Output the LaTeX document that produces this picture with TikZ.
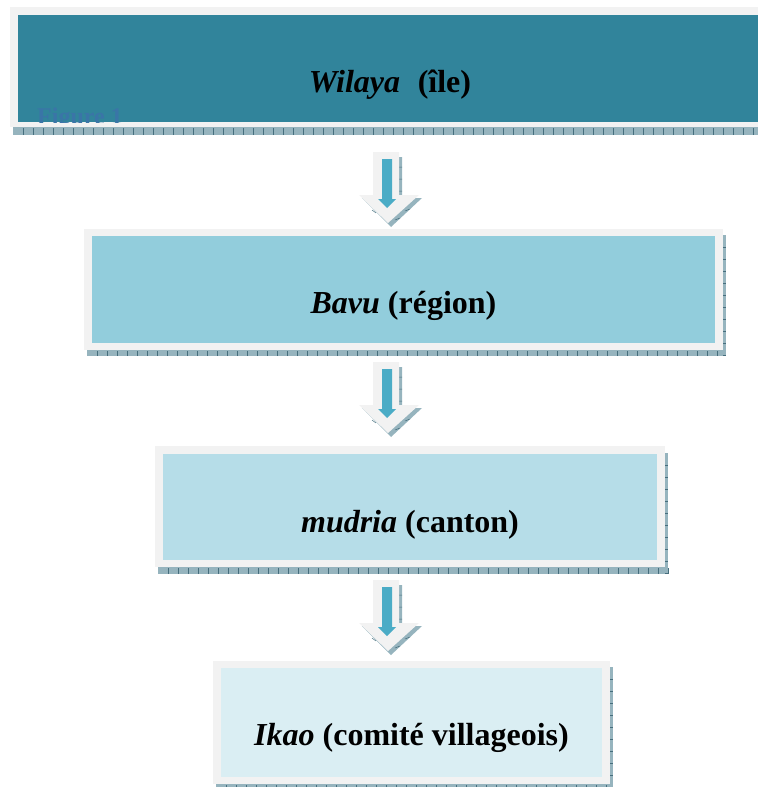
\documentclass[tikz,border=0pt]{standalone}
\usepackage{fontspec}
\setmainfont{Liberation Serif}
\definecolor{framegray}{RGB}{242,242,242}
\definecolor{shadowc}{RGB}{150,180,190}
\definecolor{tickc}{RGB}{70,110,125}
\definecolor{boxA}{HTML}{31849B}
\definecolor{boxB}{HTML}{92CDDC}
\definecolor{boxC}{HTML}{B6DDE8}
\definecolor{boxD}{HTML}{DAEEF3}
\definecolor{arrowblue}{HTML}{4BACC6}
\definecolor{ghost}{RGB}{62,110,172}
\newcommand\boxshadow[6]{% x1 y1 x2 y2 dy  showright
  \fill[shadowc] (#1+3,#2+#5) rectangle (#3+3,#4+#5);
  \pgfmathtruncatemacro\nb{(#3-#1)/10}
  \foreach \i in {1,...,\nb}{\draw[tickc,line width=0.6bp] (#1+3+\i*10,#4+1) -- (#1+3+\i*10,#4+#5);}
  \pgfmathtruncatemacro\nr{(#4-#2)/12}
  \ifnum#6=1
  \foreach \i in {1,...,\nr}{\draw[tickc,line width=0.6bp] (#3,#2+#5+\i*12) -- (#3+3,#2+#5+\i*12);}
  \fi
}
\newcommand\blkarrow[1]{% top y
  \fill[shadowc] (376,#1+5) -- (402,#1+5) -- (402,#1+46) -- (422,#1+46) -- (391,#1+75) -- (362,#1+46) -- (376,#1+46) -- cycle;
  \draw[tickc,line width=0.5bp] (399,#1+15) -- (402,#1+15) (399,#1+27) -- (402,#1+27) (399,#1+39) -- (402,#1+39)
     (395,#1+68) -- (400,#1+66) (405,#1+59) -- (410,#1+57) (372,#1+58) -- (376,#1+61);
  \fill[framegray] (373,#1) -- (399,#1) -- (399,#1+43) -- (419,#1+43) -- (388,#1+71) -- (359,#1+43) -- (373,#1+43) -- cycle;
  \fill[arrowblue] (382,#1+7) -- (392,#1+7) -- (392,#1+47) -- (396,#1+47) -- (387,#1+56) -- (378,#1+47) -- (382,#1+47) -- cycle;
}
\begin{document}
\begin{tikzpicture}[x=1bp,y=-1bp,
  inner/.style={inner sep=0pt, draw=none},
  lbl/.style={inner sep=0pt, font=\fontsize{32bp}{38bp}\selectfont\bfseries, text=black}]
\useasboundingbox (0,0) rectangle (758,787);
\clip (0,0) rectangle (758,787);

% ---- box 1
\boxshadow{10}{7}{770}{127}{8}{0}
\fill[framegray] (10,7) rectangle (770,127);
\node[inner, fill=boxA, minimum width=744bp, minimum height=107bp] (b1) at (390,68.5) {};
\begin{scope}
  \clip (18,15) rectangle (762,122);
  \node[inner, anchor=base west, text=ghost!70!boxA, font=\fontsize{24bp}{26bp}\selectfont\bfseries] (fig) at (37,124.5) {Figure 1};
\end{scope}
\node[lbl] (t1) at (390,85) {\textit{Wilaya}\hspace{0.3em} (île)};

% ---- arrow 1
\blkarrow{152}

% ---- box 2
\boxshadow{84}{229}{723}{350}{6}{1}
\fill[framegray] (84,229) rectangle (723,350);
\node[inner, fill=boxB, minimum width=623bp, minimum height=107bp] (b2) at (403.5,289.5) {};
\node[lbl] (t2) at (403.5,306) {\textit{Bavu} (région)};

% ---- arrow 2
\blkarrow{362}

% ---- box 3
\boxshadow{155}{446}{665}{567}{7}{1}
\fill[framegray] (155,446) rectangle (665,567);
\node[inner, fill=boxC, minimum width=494bp, minimum height=106bp] (b3) at (410,507) {};
\node[lbl] (t3) at (410,525) {\textit{mudria} (canton)};

% ---- arrow 3
\blkarrow{580}

% ---- box 4
\boxshadow{213}{661}{610}{784}{6}{1}
\fill[framegray] (213,661) rectangle (610,784);
\node[inner, fill=boxD, minimum width=381bp, minimum height=109bp] (b4) at (411.5,722.5) {};
\node[lbl] (t4) at (411.5,738) {\textit{Ikao} (comité villageois)};
\end{tikzpicture}
\end{document}
